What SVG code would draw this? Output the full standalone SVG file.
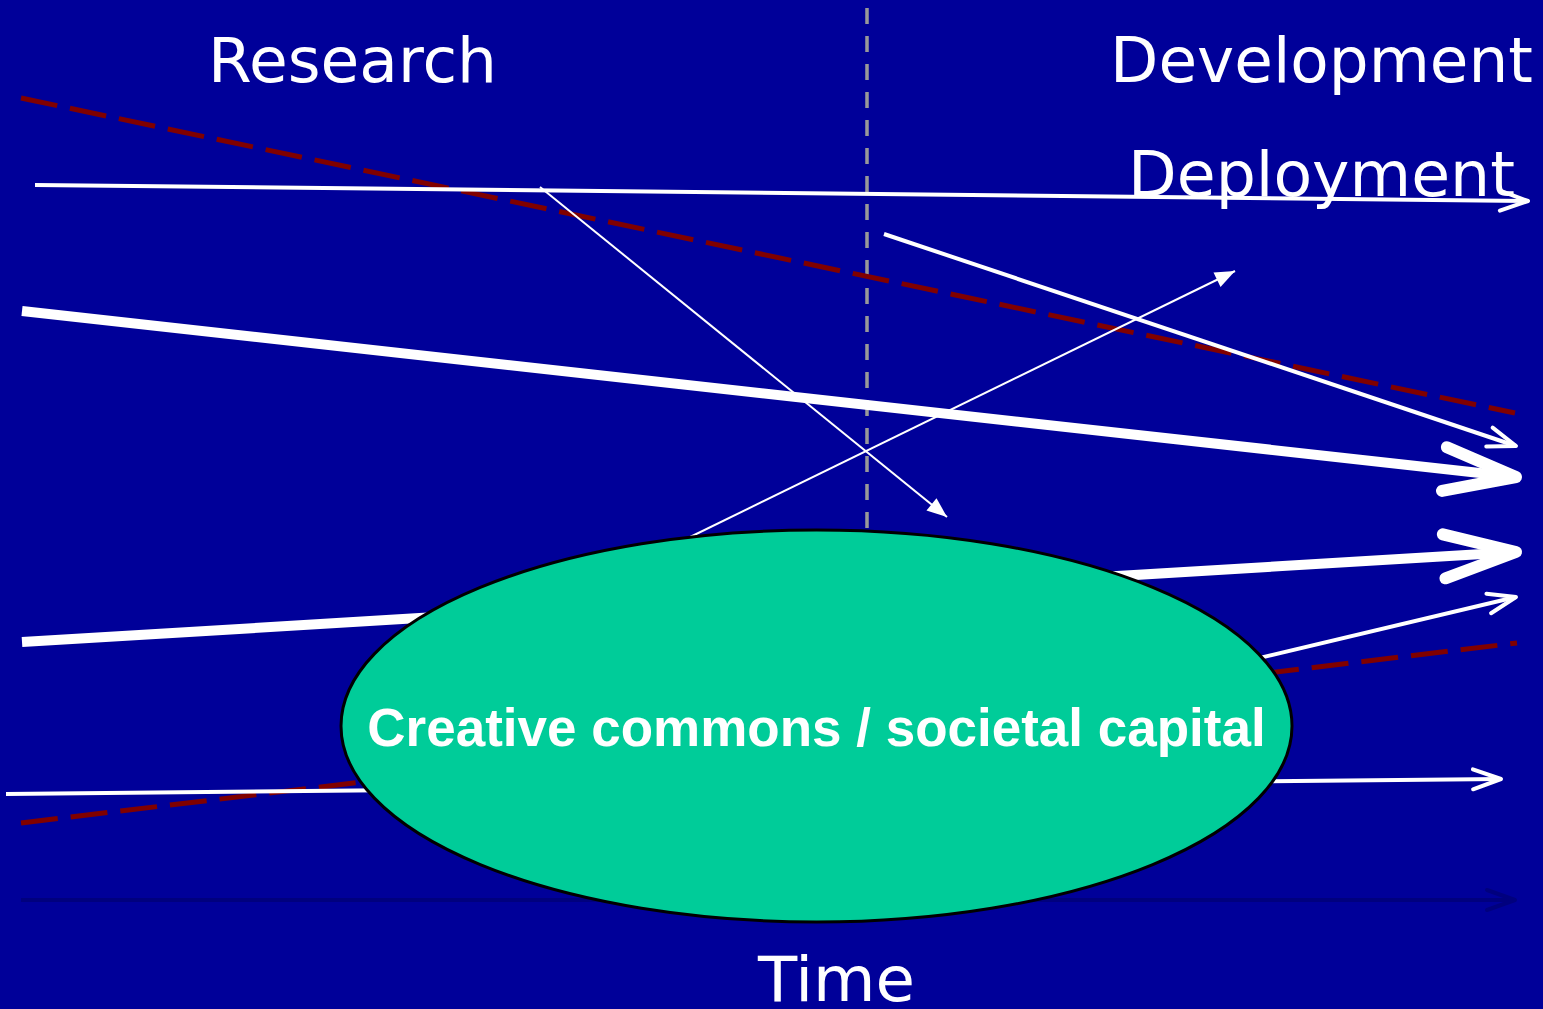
<svg xmlns="http://www.w3.org/2000/svg" width="1543" height="1009" viewBox="0 0 1543 1009">
<style>
.lbl{font-family:"DejaVu Sans","Verdana",sans-serif;font-size:63px;fill:#ffffff}
.red{stroke:#800000;stroke-width:5;stroke-dasharray:37 13;fill:none}
.w4{stroke:#ffffff;stroke-width:4;fill:none;marker-end:url(#openS)}
.w10{stroke:#ffffff;stroke-width:10;fill:none;marker-end:url(#openL)}
.w2{stroke:#ffffff;stroke-width:2;fill:none;marker-end:url(#tri)}
</style>
<defs>
<marker id="openS" markerUnits="userSpaceOnUse" orient="auto" refX="0" refY="0" markerWidth="40" markerHeight="40" overflow="visible">
<path d="M-28,-10 L0,0 L-28,10" fill="none" stroke="#ffffff" stroke-width="4" stroke-linecap="round" stroke-linejoin="round"/>
</marker>
<marker id="openD" markerUnits="userSpaceOnUse" orient="auto" refX="0" refY="0" markerWidth="40" markerHeight="40" overflow="visible">
<path d="M-28,-10 L0,0 L-28,10" fill="none" stroke="#00007E" stroke-width="4" stroke-linecap="round" stroke-linejoin="round"/>
</marker>
<marker id="openL" markerUnits="userSpaceOnUse" orient="auto" refX="0" refY="0" markerWidth="100" markerHeight="100" overflow="visible">
<path d="M-72,-22 L0,0 L-72,22" fill="none" stroke="#ffffff" stroke-width="12" stroke-linecap="round" stroke-linejoin="round"/>
</marker>
<marker id="tri" markerUnits="userSpaceOnUse" orient="auto" refX="0" refY="0" markerWidth="30" markerHeight="30" overflow="visible">
<path d="M-20,-8 L0,0 L-20,8 Z" fill="#ffffff"/>
</marker>
</defs>
<rect x="0" y="0" width="1543" height="1009" fill="#000099"/>
<g id="divider">
<line x1="867" y1="8" x2="867" y2="545" stroke="#999999" stroke-width="3.5" stroke-dasharray="16 12"/>
</g>
<g id="connectors">
<line class="red" x1="21" y1="98" x2="1515" y2="413"/>
<line class="red" x1="21" y1="823" x2="1517" y2="643"/>
<line x1="21" y1="900" x2="1515" y2="900" stroke="#00007E" stroke-width="4" marker-end="url(#openD)"/>
<line class="w4" x1="35" y1="185" x2="1528" y2="201"/>
<line class="w4" x1="884" y1="234" x2="1516" y2="446"/>
<line class="w10" x1="22" y1="311" x2="1516" y2="477"/>
<line class="w10" x1="22" y1="642" x2="1516" y2="552"/>
<line class="w4" x1="1100" y1="696" x2="1516" y2="597"/>
<line class="w4" x1="6" y1="794" x2="1501" y2="779"/>
<line class="w2" x1="540" y1="187" x2="947" y2="517"/>
<line class="w2" x1="684" y1="540" x2="1235" y2="271"/>
</g>
<g id="commons">
<ellipse cx="816.5" cy="726" rx="475.5" ry="196" fill="#00CC99" stroke="#000000" stroke-width="3"/>
<text x="816.5" y="746" text-anchor="middle" font-family="'Liberation Sans',Arial,sans-serif" font-weight="bold" font-size="53" fill="#ffffff">Creative commons / societal capital</text>
</g>
<g id="research"><text class="lbl" x="208" y="82" textLength="289" lengthAdjust="spacingAndGlyphs">Research</text></g>
<g id="development"><text class="lbl" x="1110" y="82" textLength="423" lengthAdjust="spacingAndGlyphs">Development</text></g>
<g id="deployment"><text class="lbl" x="1128" y="196" textLength="387" lengthAdjust="spacingAndGlyphs">Deployment</text></g>
<g id="time"><text class="lbl" x="758" y="1001" textLength="157" lengthAdjust="spacingAndGlyphs">Time</text></g>
</svg>
